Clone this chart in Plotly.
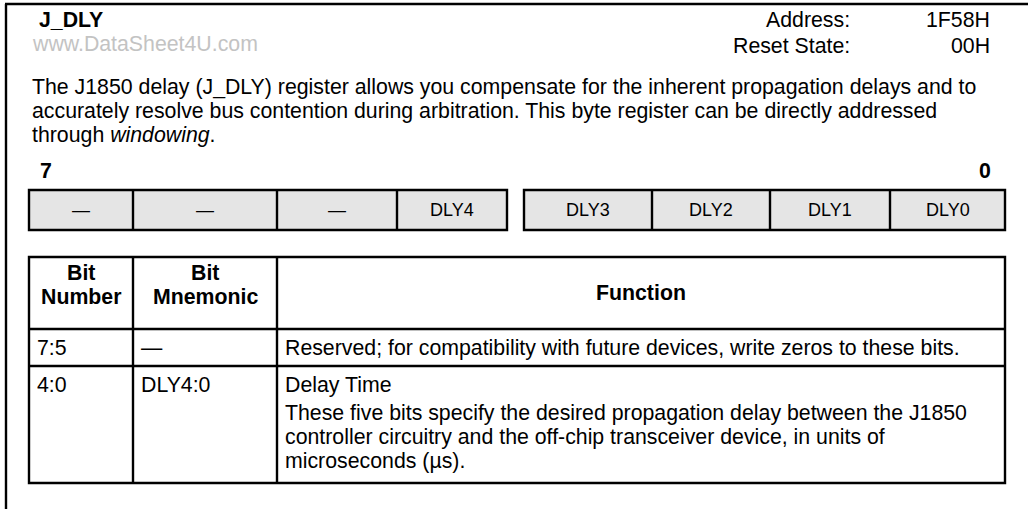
import plotly.graph_objects as go

# ---------------- data ----------------
register_name = "J_DLY"
watermark = "www.DataSheet4U.com"
info_labels = ["Address:", "Reset State:"]
info_values = ["1F58H", "00H"]
description_lines = [
    "The J1850 delay (J_DLY) register allows you compensate for the inherent propagation delays and to",
    "accurately resolve bus contention during arbitration. This byte register can be directly addressed",
    "through <i>windowing</i>.",
]
msb_label = "7"
lsb_label = "0"
bits_high = ["—", "—", "—", "DLY4"]
bits_low = ["DLY3", "DLY2", "DLY1", "DLY0"]
header_lines = [["Bit", "Number"], ["Bit", "Mnemonic"], ["Function"]]
bit_numbers = ["7:5", "4:0"]
bit_mnemonics = ["—", "DLY4:0"]
function_titles = [
    "Reserved; for compatibility with future devices, write zeros to these bits.",
    "Delay Time",
]
function_details = [
    [],
    [
        "These five bits specify the desired propagation delay between the J1850",
        "controller circuitry and the off-chip transceiver device, in units of",
        "microseconds (µs).",
    ],
]

# ---------------- layout constants ----------------
W, H = 1028, 509
FONT = "Arial, 'Liberation Sans', Helvetica, sans-serif"
BODY = 21.3
CELL = 18
LH = 24          # line pitch for stacked lines
LW = 2.4
GREY = "#e5e5e5"

high_edges = [29, 133, 277, 397, 507]
low_edges = [524, 652, 770, 890, 1005]
box_top, box_bot = 190, 230
col_edges = [29, 133, 277, 1005]
row_edges = [257, 329, 366, 483]

shapes = []
annotations = []


def text(x, y, s, size=BODY, anchor="left", bold=False, color="black"):
    if bold:
        s = "<b>" + s + "</b>"
    annotations.append(dict(
        x=x, y=y, xref="x", yref="y", text=s, showarrow=False,
        xanchor=anchor, yanchor="middle",
        font=dict(family=FONT, size=size, color=color),
    ))


def line(x0, y0, x1, y1, w=LW):
    shapes.append(dict(type="line", x0=x0, y0=y0, x1=x1, y1=y1,
                       xref="x", yref="y", line=dict(color="black", width=w)))


# outer frame (top and left)
line(5, 4, W, 4)
line(6, 4, 6, H)

# header
text(37, 20, register_name, size=BODY, bold=True)
text(30, 44, watermark, size=BODY, color="#c3c3c3")
for i, (lab, val) in enumerate(zip(info_labels, info_values)):
    y = 20 + i * 26
    text(852, y, lab, anchor="right")
    text(992, y, val, anchor="right")

# description
for i, s in enumerate(description_lines):
    text(30, 87 + i * LH, s)

# register bit boxes
text(38, 171, msb_label, bold=True)
text(993, 171, lsb_label, anchor="right", bold=True)
for edges, labels in ((high_edges, bits_high), (low_edges, bits_low)):
    shapes.append(dict(type="rect", x0=edges[0], x1=edges[-1], y0=box_top, y1=box_bot,
                       xref="x", yref="y", fillcolor=GREY,
                       line=dict(color="black", width=LW), layer="below"))
    for k in range(1, len(edges) - 1):
        line(edges[k], box_top, edges[k], box_bot)
    for k, lab in enumerate(labels):
        text((edges[k] + edges[k + 1]) / 2, (box_top + box_bot) / 2, lab,
             size=CELL, anchor="center")

# table
shapes.append(dict(type="rect", x0=col_edges[0], x1=col_edges[-1], y0=row_edges[0], y1=row_edges[-1],
                   xref="x", yref="y", line=dict(color="black", width=LW)))
for ye in row_edges[1:-1]:
    line(col_edges[0], ye, col_edges[-1], ye)
for xe in col_edges[1:-1]:
    line(xe, row_edges[0], xe, row_edges[-1])

hdr_mid = (row_edges[0] + row_edges[1]) / 2
for c, lines_ in enumerate(header_lines):
    cx = (col_edges[c] + col_edges[c + 1]) / 2
    n = len(lines_)
    for j, s in enumerate(lines_):
        y = hdr_mid - 20 + j * LH if n > 1 else hdr_mid
        text(cx, y, s, anchor="center", bold=True)

pad = 6
for r in range(len(bit_numbers)):
    top = row_edges[r + 1]
    y0 = top + 19
    text(col_edges[0] + pad, y0, bit_numbers[r])
    text(col_edges[1] + pad, y0, bit_mnemonics[r])
    text(col_edges[2] + pad, y0, function_titles[r])
    for j, s in enumerate(function_details[r]):
        text(col_edges[2] + pad, y0 + 28 + j * LH, s)

fig = go.Figure()
fig.update_layout(
    width=W, height=H,
    margin=dict(l=0, r=0, t=0, b=0),
    paper_bgcolor="white", plot_bgcolor="white",
    xaxis=dict(range=[0, W], visible=False, fixedrange=True),
    yaxis=dict(range=[H, 0], visible=False, fixedrange=True),
    shapes=shapes, annotations=annotations, showlegend=False,
)
fig.write_html(
    "out.html",
    config={"displayModeBar": False},
    post_script="document.body.style.margin='0px';document.body.style.overflow='hidden';",
)
